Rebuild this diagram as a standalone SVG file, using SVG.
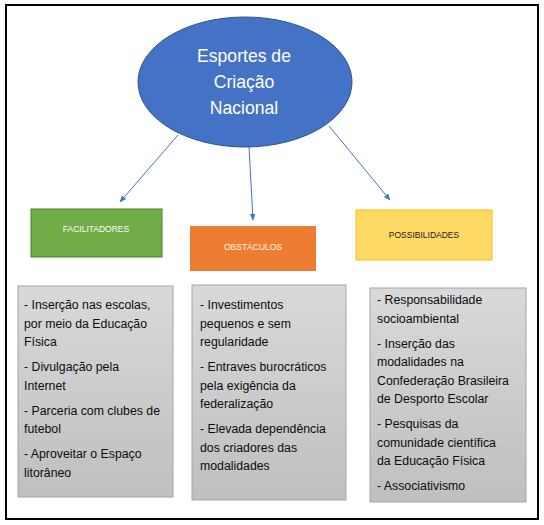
<svg xmlns="http://www.w3.org/2000/svg" width="544" height="525" viewBox="0 0 544 525">
<style>
  .t{font-family:"Liberation Sans",Arial,sans-serif;}
  .hub{font-size:17.6px;fill:#ffffff;text-anchor:middle;}
  .lbl{font-size:8.5px;text-anchor:middle;}
  .item{font-size:12.3px;fill:#0d0d0d;}
  .gray{fill:url(#g);stroke:#a6a6a6;stroke-width:1;}
  .conn{stroke:#4472c4;stroke-width:1;fill:none;marker-end:url(#ah);}
</style>
<defs>
  <linearGradient id="g" x1="0" y1="0" x2="0" y2="1">
    <stop offset="0" stop-color="#d9d9d9"/>
    <stop offset="1" stop-color="#bfbfbf"/>
  </linearGradient>
  <marker id="ah" viewBox="0 0 10 10" refX="9" refY="5" markerWidth="7" markerHeight="7" orient="auto" markerUnits="userSpaceOnUse">
    <path d="M0,1 L10,5 L0,9 Z" fill="#4472c4"/>
  </marker>
</defs>
<rect x="0" y="0" width="544" height="525" fill="#ffffff"/>
<rect x="6" y="5" width="532" height="514" fill="#ffffff" stroke="#000000" stroke-width="2"/>

<g id="connectors">
  <line class="conn" x1="178" y1="135" x2="120" y2="202"/>
  <line class="conn" x1="249" y1="147" x2="253" y2="220"/>
  <line class="conn" x1="329" y1="126" x2="390" y2="200"/>
</g>

<g id="hub">
  <ellipse cx="245" cy="82" rx="107" ry="65" fill="#4472c4" stroke="#2f528f" stroke-width="1"/>
  <text class="t hub" x="244" y="62">Esportes de</text>
  <text class="t hub" x="244" y="88">Criação</text>
  <text class="t hub" x="244" y="114">Nacional</text>
</g>

<g id="facilitadores">
  <rect x="31" y="209" width="131" height="48" fill="#70ad47" stroke="#507e32" stroke-width="1"/>
  <text class="t lbl" x="96" y="232" fill="#ffffff">FACILITADORES</text>
</g>

<g id="obstaculos">
  <rect x="190" y="226" width="126" height="45" fill="#ed7d31"/>
  <text class="t lbl" x="253" y="250" fill="#fff8ee">OBSTÁCULOS</text>
</g>

<g id="possibilidades">
  <rect x="356" y="210" width="136" height="50" fill="#ffd966" stroke="#ffc000" stroke-width="1"/>
  <text class="t lbl" x="424" y="238" fill="#1a1a1a">POSSIBILIDADES</text>
</g>

<g id="facilitadores-list">
  <rect class="gray" x="18" y="286" width="155" height="211"/>
  <text class="t item" x="24" y="309">- Inserção nas escolas,</text>
  <text class="t item" x="24" y="327.5">por meio da Educação</text>
  <text class="t item" x="24" y="346">Física</text>
  <text class="t item" x="24" y="371">- Divulgação pela</text>
  <text class="t item" x="24" y="389.5">Internet</text>
  <text class="t item" x="24" y="414.5">- Parceria com clubes de</text>
  <text class="t item" x="24" y="433">futebol</text>
  <text class="t item" x="24" y="458">- Aproveitar o Espaço</text>
  <text class="t item" x="24" y="476.5">litorâneo</text>
</g>

<g id="obstaculos-list">
  <rect class="gray" x="192" y="285" width="154" height="215"/>
  <text class="t item" x="200" y="309">- Investimentos</text>
  <text class="t item" x="200" y="327.5">pequenos e sem</text>
  <text class="t item" x="200" y="346">regularidade</text>
  <text class="t item" x="200" y="371">- Entraves burocráticos</text>
  <text class="t item" x="200" y="389.5">pela exigência da</text>
  <text class="t item" x="200" y="408">federalização</text>
  <text class="t item" x="200" y="433">- Elevada dependência</text>
  <text class="t item" x="200" y="451.5">dos criadores das</text>
  <text class="t item" x="200" y="470">modalidades</text>
</g>

<g id="possibilidades-list">
  <rect class="gray" x="370" y="288" width="156" height="214"/>
  <text class="t item" x="377" y="304">- Responsabilidade</text>
  <text class="t item" x="377" y="322.5">socioambiental</text>
  <text class="t item" x="377" y="347.5">- Inserção das</text>
  <text class="t item" x="377" y="366">modalidades na</text>
  <text class="t item" x="377" y="384.5">Confederação Brasileira</text>
  <text class="t item" x="377" y="403">de Desporto Escolar</text>
  <text class="t item" x="377" y="428">- Pesquisas da</text>
  <text class="t item" x="377" y="446.5">comunidade científica</text>
  <text class="t item" x="377" y="465">da Educação Física</text>
  <text class="t item" x="377" y="490">- Associativismo</text>
</g>
</svg>
